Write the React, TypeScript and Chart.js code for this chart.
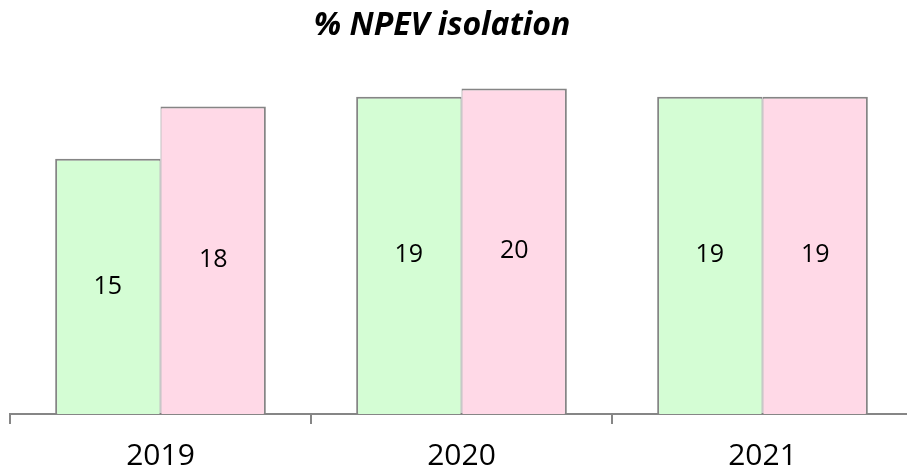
import React, { useEffect, useRef } from "react";
import { Chart, registerables } from "chart.js";

Chart.register(...registerables);

const categories = ["2019", "2020", "2021"];
const seriesGreen = [15.35, 19.09, 19.09];
const seriesPink = [18.49, 19.58, 19.09];
const titleText = "% NPEV isolation";

const FONT = "'Open Sans', 'DejaVu Sans', sans-serif";

const barLabels = {
  id: "barLabels",
  afterDatasetsDraw(chart: any) {
    const ctx = chart.ctx;
    ctx.save();
    ctx.font = `25px ${FONT}`;
    ctx.fillStyle = "#000";
    ctx.textAlign = "center";
    ctx.textBaseline = "middle";
    chart.data.datasets.forEach((ds: any, i: number) => {
      const meta = chart.getDatasetMeta(i);
      meta.data.forEach((bar: any, j: number) => {
        const v = ds.data[j];
        ctx.fillText(String(Math.round(v)), bar.x, (bar.y + bar.base) / 2);
      });
    });
    ctx.restore();
  },
};

const titlePlugin = {
  id: "offsetTitle",
  afterDraw(chart: any) {
    const ctx = chart.ctx;
    const area = chart.chartArea;
    ctx.save();
    ctx.font = `italic bold 32px ${FONT}`;
    ctx.fillStyle = "#000";
    ctx.textAlign = "center";
    ctx.textBaseline = "middle";
    ctx.fillText(titleText, area.left + (area.right - area.left) * 0.4785, 26);
    ctx.restore();
  },
};

export default function App() {
  const ref = useRef<HTMLCanvasElement>(null);
  useEffect(() => {
    if (!ref.current) return;
    const chart = new Chart(ref.current, {
      type: "bar",
      data: {
        labels: categories,
        datasets: [
          {
            data: seriesGreen,
            backgroundColor: "#d4fdd4",
            borderColor: "#858585",
            borderWidth: { top: 2, left: 2, right: 1, bottom: 0 },
            borderSkipped: false,
            categoryPercentage: 0.7,
            barPercentage: 1,
          },
          {
            data: seriesPink,
            backgroundColor: "#ffd9e7",
            borderColor: "#858585",
            borderWidth: { top: 2, left: 1, right: 2, bottom: 0 },
            borderSkipped: false,
            categoryPercentage: 0.7,
            barPercentage: 1,
          },
        ],
      },
      options: {
        animation: false,
        responsive: true,
        maintainAspectRatio: false,
        layout: { padding: { top: 81.5, left: 10, right: 1, bottom: 0 } },
        plugins: {
          legend: { display: false },
          title: { display: false },
          tooltip: { enabled: false },
        },
        scales: {
          x: {
            grid: {
              display: true,
              drawOnChartArea: false,
              drawTicks: true,
              tickLength: 10,
              color: "#868686",
              lineWidth: 2,
              offset: true,
            },
            border: { display: true, color: "#868686", width: 2 },
            ticks: {
              color: "#000",
              font: { family: FONT, size: 30 },
              padding: 14,
            },
          },
          y: {
            display: false,
            min: 0,
            max: 20,
          },
        },
      },
      plugins: [barLabels, titlePlugin],
    });
    return () => chart.destroy();
  }, []);

  return (
    <div
      style={{
        position: "fixed",
        left: 0,
        top: 0,
        width: 907,
        height: 471,
        overflow: "hidden",
        background: "#fff",
      }}
    >
      <div style={{ position: "relative", width: 914, height: 488 }}>
        <canvas ref={ref} />
      </div>
    </div>
  );
}
